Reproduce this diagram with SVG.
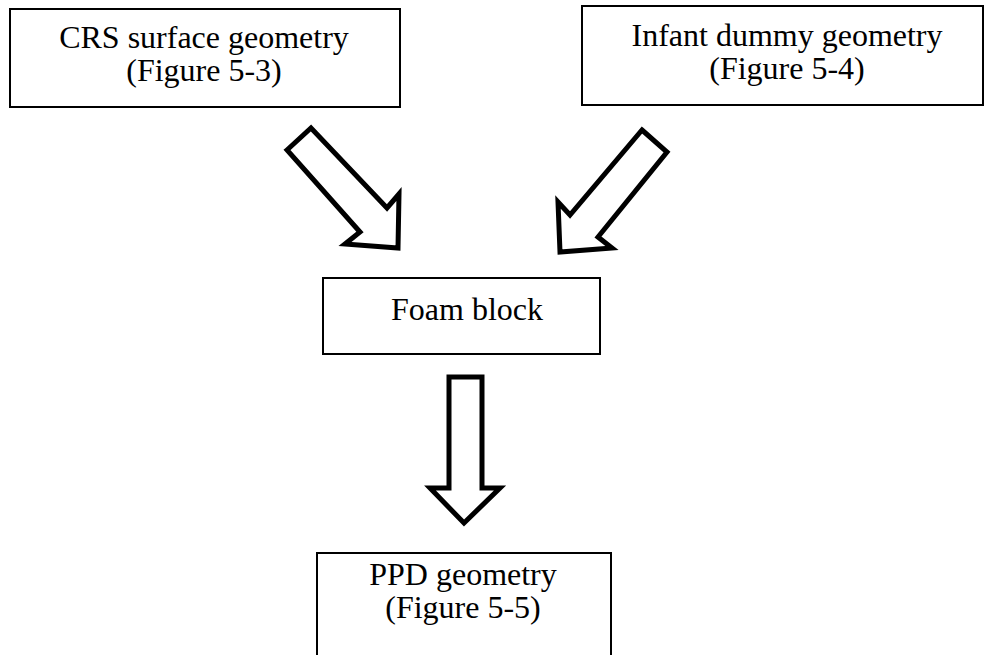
<svg xmlns="http://www.w3.org/2000/svg" width="986" height="655" viewBox="0 0 986 655">
<style>
.box{fill:#fff;stroke:#000;stroke-width:2}
.arr{fill:#fff;stroke:#000;stroke-width:5;stroke-linejoin:miter}
text{font-family:"Liberation Serif","Times New Roman",serif;font-size:32px;fill:#000;text-anchor:middle}
</style>
<rect width="986" height="655" fill="#fff"/>
<g id="crs">
<rect class="box" x="10" y="9" width="390" height="98"/>
<text x="204" y="48">CRS surface geometry</text>
<text x="204" y="81">(Figure 5-3)</text>
</g>
<g id="infant">
<rect class="box" x="582" y="6" width="401" height="99"/>
<text x="787" y="46">Infant dummy geometry</text>
<text x="787" y="79">(Figure 5-4)</text>
</g>
<g id="foam">
<rect class="box" x="323" y="278" width="277" height="76"/>
<text x="467" y="320">Foam block</text>
</g>
<g id="ppd">
<rect class="box" x="317" y="553" width="294" height="110"/>
<text x="463" y="585">PPD geometry</text>
<text x="463" y="618">(Figure 5-5)</text>
</g>
<g id="connectors">
<polygon class="arr" points="287,150 311,128 387,208 399,194 398,248 345,244 360,232"/>
<polygon class="arr" points="642,130 667,152 598,237 612,248 560,252 558,202 570,215"/>
<polygon class="arr" points="449,377 482,377 482,488 500,488 464,523 430,488 449,488"/>
</g>
</svg>
